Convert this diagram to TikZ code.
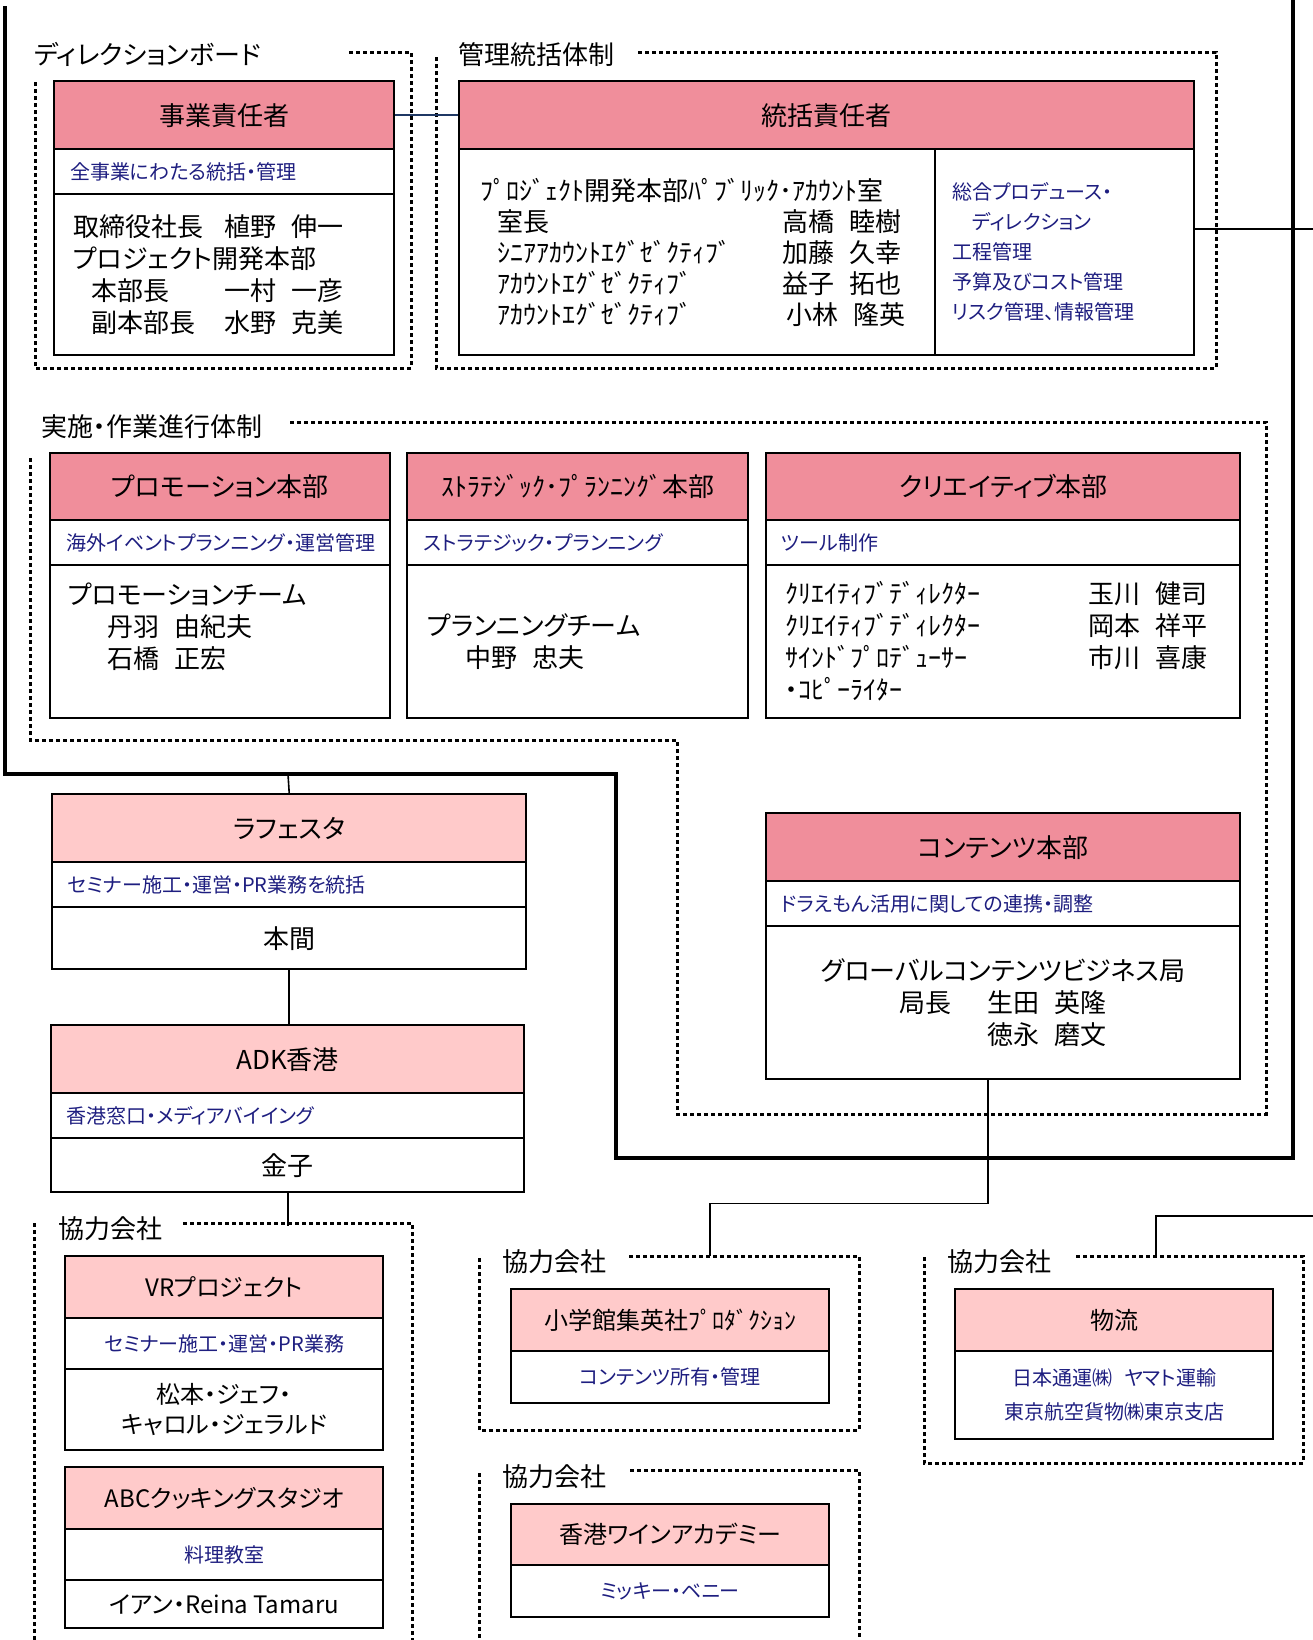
\documentclass[tikz,border=0pt]{standalone}
\usepackage{fontspec}
\setmainfont{Noto Sans CJK JP}[RawFeature=+palt]
\usepackage{tikz}

\definecolor{hdark}{RGB}{240,142,155}
\definecolor{hlight}{RGB}{255,202,202}
\definecolor{navytxt}{RGB}{30,30,128}
\definecolor{navyln}{RGB}{31,56,100}
\newcommand{\jsp}{\hspace{0.6em}}

\begin{document}
\begin{tikzpicture}[x=0.5pt,y=-0.5pt,line width=1.2pt,
  hda/.style={draw,fill=hdark,anchor=north west,inner sep=0pt,font=\fontsize{13}{16}\selectfont},
  hdb/.style={draw,fill=hlight,anchor=north west,inner sep=0pt,font=\fontsize{12}{15}\selectfont},
  subl/.style={draw,fill=white,anchor=north west,inner ysep=0pt,align=left,text=navytxt,font=\fontsize{10}{15}\selectfont},
  subc/.style={draw,fill=white,anchor=north west,inner sep=0pt,align=center,text=navytxt,font=\fontsize{10}{15}\selectfont},
  bodyl/.style={draw,fill=white,anchor=north west,inner ysep=0pt,align=left,font=\fontsize{13}{16}\selectfont},
  bodyc/.style={draw,fill=white,anchor=north west,inner sep=0pt,align=center,font=\fontsize{13}{16}\selectfont},
  grp/.style={anchor=west,inner sep=0pt,font=\fontsize{13}{16}\selectfont},
  dots/.style={line width=1.5pt,dash pattern=on 2pt off 1.5pt},
  frame/.style={line width=2.2pt},
  link/.style={line width=0.8pt}]

\useasboundingbox  (0,0)  rectangle  (1313,1640);

\draw[dots]  (349,52)  --  (411,52)  --  (411,368)  --  (35,368)  --  (35,80);
\draw[dots]  (638,52)  --  (1216,52)  --  (1216,368)  --  (436,368)  --  (436,56);
\draw[dots]  (290,422)  --  (1266,422)  --  (1266,1114)  --  (677,1114)  --  (677,740)  --  (30,740)  --  (30,455);
\draw[dots]  (183,1223)  --  (412,1223)  --  (412,1645);
\draw[dots]  (34,1223)  --  (34,1645);
\draw[dots]  (629,1256)  --  (859,1256)  --  (859,1430)  --  (479,1430)  --  (479,1258);
\draw[dots]  (630,1470)  --  (859,1470)  --  (859,1645);
\draw[dots]  (479,1473)  --  (479,1645);
\draw[dots]  (1076,1256)  --  (1303,1256)  --  (1303,1463)  --  (924,1463)  --  (924,1255);

\draw[frame]  (5,6)  --  (5,774)  --  (616,774)  --  (616,1158)  --  (1293,1158)  --  (1293,0);

\node[grp] (dirl) at (33,54) {ディレクションボード};
\node[grp] (kanl) at (457,55) {管理統括体制};
\node[grp] (jisl) at (40,427) {実施・作業進行体制};
\node[grp] (kyoal) at (57,1229) {協力会社};
\node[grp] (kyobl) at (501,1262) {協力会社};
\node[grp] (kyocl) at (501,1477) {協力会社};
\node[grp] (kyodl) at (946,1262) {協力会社};

\node[hda,minimum width=170pt,minimum height=34pt] (jigyoh) at (53,80) {事業責任者};
\node[subl,inner xsep=8pt,text width=154pt,minimum height=22.5pt] (jigyos) at (53,148) {全事業にわたる統括・管理};
\node[bodyl,inner xsep=9.5pt,text width=151pt,minimum height=80.5pt] (jigyob) at (53,193) {\makebox[75.5pt][l]{取締役社長}植野\jsp 伸一\\プロジェクト開発本部\\\hspace*{9pt}\makebox[66.5pt][l]{本部長}一村\jsp 一彦\\\hspace*{9pt}\makebox[66.5pt][l]{副本部長}水野\jsp 克美};

\node[hda,minimum width=367.5pt,minimum height=34pt] (tokh) at (458,80) {統括責任者};
\node[bodyl,inner xsep=10.5pt,text width=217pt,minimum height=103pt,font=\fontsize{13}{15.5}\selectfont] (tokl) at (458,148) {ﾌﾟﾛｼﾞｪｸﾄ開発本部ﾊﾟﾌﾞﾘｯｸ･ｱｶｳﾝﾄ室\\\hspace*{8.5pt}\makebox[142.5pt][l]{室長}高橋\jsp 睦樹\\\hspace*{8.5pt}\makebox[142.5pt][l]{ｼﾆｱｱｶｳﾝﾄｴｸﾞｾﾞｸﾃｨﾌﾞ}加藤\jsp 久幸\\\hspace*{8.5pt}\makebox[142.5pt][l]{ｱｶｳﾝﾄｴｸﾞｾﾞｸﾃｨﾌﾞ}益子\jsp 拓也\\\hspace*{8.5pt}\makebox[144.5pt][l]{ｱｶｳﾝﾄｴｸﾞｾﾞｸﾃｨﾌﾞ}小林\jsp 隆英};
\node[subl,inner xsep=8.5pt,text width=112.5pt,minimum height=103pt] (tokr) at (934,148) {総合プロデュース・\\　ディレクション\\工程管理\\予算及びコスト管理\\リスク管理、情報管理};

\node[hda,minimum width=170pt,minimum height=33.5pt] (promoh) at (49,452) {プロモーション本部};
\node[subl,inner xsep=8pt,text width=154pt,minimum height=22.5pt] (promos) at (49,519) {海外イベントプランニング・運営管理};
\node[bodyl,inner xsep=9pt,text width=152pt,minimum height=76.5pt] (promob) at (49,564) {プロモーションチーム\\\hspace*{19.5pt}丹羽\jsp 由紀夫\\\hspace*{19.5pt}石橋\jsp 正宏\\\mbox{}};

\node[hda,minimum width=170.5pt,minimum height=33.5pt] (strath) at (406,452) {ｽﾄﾗﾃｼﾞｯｸ･ﾌﾟﾗﾝﾆﾝｸﾞ本部};
\node[subl,inner xsep=8pt,text width=154.5pt,minimum height=22.5pt] (strats) at (406,519) {ストラテジック・プランニング};
\node[bodyl,inner xsep=10pt,text width=150.5pt,minimum height=76.5pt] (stratb) at (406,564) {プランニングチーム\\\hspace*{19pt}中野\jsp 忠夫};

\node[hda,minimum width=237pt,minimum height=33.5pt] (creah) at (765,452) {クリエイティブ本部};
\node[subl,inner xsep=7.5pt,text width=222pt,minimum height=22.5pt] (creas) at (765,519) {ツール制作};
\node[bodyl,inner xsep=9.5pt,text width=218pt,minimum height=76.5pt] (creab) at (765,564) {\makebox[151.5pt][l]{ｸﾘｴｲﾃｨﾌﾞﾃﾞｨﾚｸﾀｰ}玉川\jsp 健司\\\makebox[151.5pt][l]{ｸﾘｴｲﾃｨﾌﾞﾃﾞｨﾚｸﾀｰ}岡本\jsp 祥平\\\makebox[151.5pt][l]{ｻｲﾝﾄﾞﾌﾟﾛﾃﾞｭｰｻｰ}市川\jsp 喜康\\・ｺﾋﾟｰﾗｲﾀｰ};

\node[hda,minimum width=237pt,minimum height=34pt] (conth) at (765,812) {コンテンツ本部};
\node[subl,inner xsep=7.5pt,text width=222pt,minimum height=22.5pt] (conts) at (765,880) {ドラえもん活用に関しての連携・調整};
\node[bodyc,minimum width=237pt,minimum height=76.5pt] (contb) at (765,925) {グローバルコンテンツビジネス局\\\makebox[104pt][l]{\makebox[44pt][l]{局長}生田\jsp 英隆}\\\makebox[104pt][l]{\makebox[44pt][l]{}徳永\jsp 磨文}};

\node[hdb,minimum width=237pt,minimum height=34pt,font=\fontsize{13}{16}\selectfont] (lafh) at (51,793) {ラフェスタ};
\node[subl,inner xsep=7.75pt,text width=221.5pt,minimum height=22.5pt] (lafs) at (51,861) {セミナー施工・運営・PR業務を統括};
\node[bodyc,minimum width=237pt,minimum height=31pt] (lafb) at (51,906) {本間};

\node[hdb,minimum width=236.5pt,minimum height=34pt,font=\fontsize{13}{16}\selectfont] (adkh) at (50,1024) {ADK香港};
\node[subl,inner xsep=7.5pt,text width=221.5pt,minimum height=22.5pt] (adks) at (50,1092) {香港窓口・メディアバイイング};
\node[bodyc,minimum width=236.5pt,minimum height=27pt] (adkb) at (50,1137) {金子};

\node[hdb,minimum width=159pt,minimum height=31pt] (vrh) at (64,1255) {VRプロジェクト};
\node[subc,minimum width=159pt,minimum height=25.5pt] (vrs) at (64,1317) {セミナー施工・運営・PR業務};
\node[bodyc,minimum width=159pt,minimum height=40.5pt,font=\fontsize{12}{15}\selectfont] (vrb) at (64,1368) {松本・ジェフ・\\キャロル・ジェラルド};

\node[hdb,minimum width=159pt,minimum height=31pt] (abch) at (64,1466) {ABCクッキングスタジオ};
\node[subc,minimum width=159pt,minimum height=25.5pt] (abcs) at (64,1528) {料理教室};
\node[bodyc,minimum width=159pt,minimum height=24pt,font=\fontsize{12}{15}\selectfont] (abcb) at (64,1579) {イアン・Reina Tamaru};

\node[hdb,minimum width=159pt,minimum height=31pt] (shoh) at (510,1288) {小学館集英社ﾌﾟﾛﾀﾞｸｼｮﾝ};
\node[subc,minimum width=159pt,minimum height=26pt] (shos) at (510,1350) {コンテンツ所有・管理};

\node[hdb,minimum width=159pt,minimum height=30.5pt] (wineh) at (510,1503) {香港ワインアカデミー};
\node[subc,minimum width=159pt,minimum height=26pt] (wines) at (510,1564) {ミッキー・ベニー};

\node[hdb,minimum width=159pt,minimum height=31pt] (butsuh) at (954,1288) {物流};
\node[subc,minimum width=159pt,minimum height=44pt,font=\fontsize{10}{17}\selectfont] (butsus) at (954,1350) {日本通運㈱\jsp ヤマト運輸\\東京航空貨物㈱東京支店};

\draw[link,navyln]  (jigyoh)  --  (tokh);
\coordinate (e1) at (1313,229);
\draw[link]  (tokr.east |- e1)  --  (e1);
\coordinate (f1) at (288,774);
\draw[link]  (f1)  --  (lafh.north);
\draw[link]  (lafb.south)  --  (lafb.south |- adkh.north);
\coordinate (f2) at (287,1226);
\draw[link]  (adkb.south)  --  (adkb.south |- f2);
\coordinate (f3) at (710,1256);
\draw[link]  ([xshift=-7.5pt]contb.south)  --  ++(0,123)  -|  (f3);
\coordinate (f4) at (1313,1216);
\coordinate (f5) at (1156,1256);
\draw[link]  (f4)  -|  (f5);

\end{tikzpicture}
\end{document}
